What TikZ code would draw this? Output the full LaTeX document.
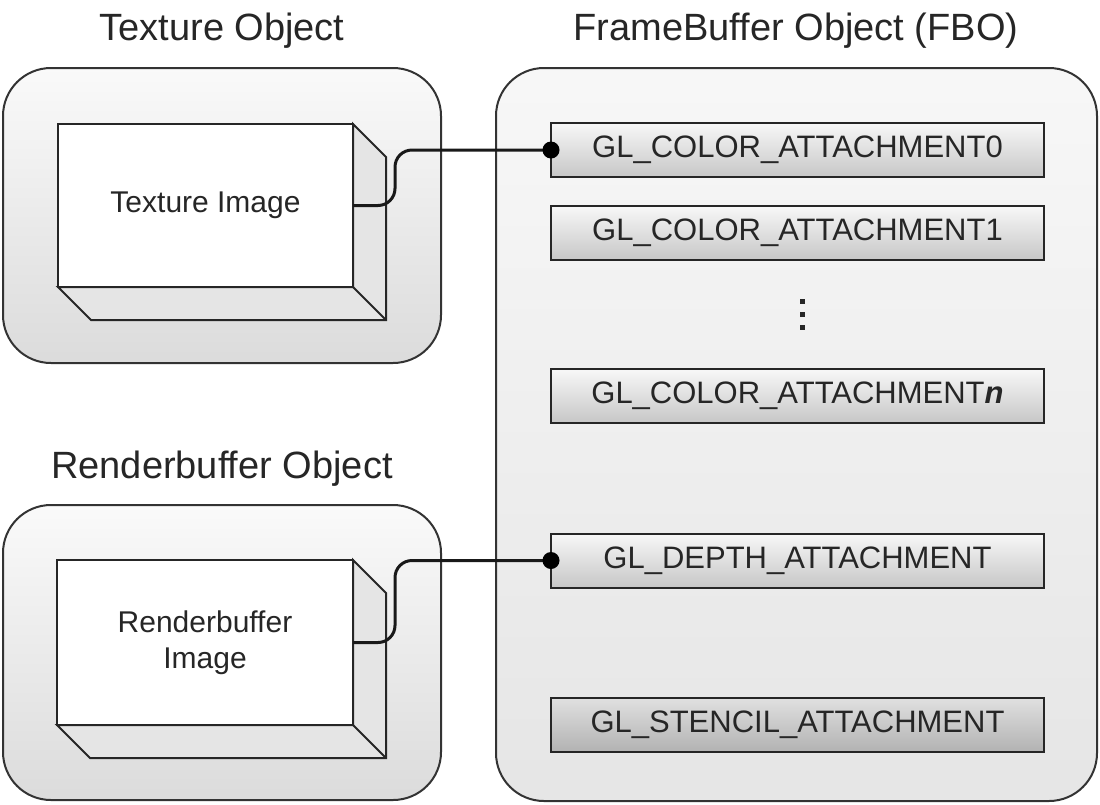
\documentclass[tikz,border=0pt]{standalone}
\usepackage{fontspec}
\setmainfont{Liberation Sans}
\usetikzlibrary{calc}
\begin{document}
\begin{tikzpicture}[x=1pt,y=-1pt,
    objbox/.style={draw=black!80, line width=2pt, rounded corners=48pt, top color=black!2, bottom color=black!14},
    fbobox/.style={draw=black!80, line width=2pt, rounded corners=48pt, top color=black!3, bottom color=black!10},
    front/.style={draw=black!85, line width=2pt, fill=white, outer sep=0pt, align=center, text=black!85, font=\fontsize{30pt}{36pt}\selectfont},
    face/.style={draw=black!85, line width=2pt, fill=black!10, line join=miter},
    attbox/.style={draw=black!85, line width=2pt, minimum width=493pt, minimum height=54pt, outer sep=0pt, top color=black!3, bottom color=black!22, text=black!85, font=\fontsize{31pt}{36pt}\selectfont},
    stencil/.style={attbox, top color=black!12, bottom color=black!30},
    title/.style={anchor=base, text=black!85, font=\fontsize{38pt}{40pt}\selectfont},
    conn/.style={line width=3pt, black!90, rounded corners=17pt}]
  \useasboundingbox (0,0) rectangle (1100,804);
  % titles
  \node[title] (textitle) at (222,40) {Texture Object};
  \node[title] (rbtitle) at (222,478) {Renderbuffer Object};
  \node[title] (fbotitle) at (796,40) {FrameBuffer Object (FBO)};
  % outer objects
  \draw[objbox] (3,68) rectangle (441,363);
  \draw[objbox] (3,505) rectangle (441,800);
  \draw[fbobox] (496,68) rectangle (1097,801);
  % texture image (3d box)
  \node[front, minimum width=295pt, minimum height=163pt] (teximg) at (205.5,205.5) {Texture Image};
  \draw[face] (teximg.north east) -- ++(33,33) -- ([shift={(33,33)}]teximg.south east) -- ([shift={(33,33)}]teximg.south west) -- (teximg.south west) -- (teximg.south east) -- cycle;
  \draw[face] (teximg.south east) -- ++(33,33);
  % renderbuffer image (3d box)
  \node[front, minimum width=296pt, minimum height=165pt] (rbimg) at (205,642.5) {Renderbuffer\\Image};
  \draw[face] (rbimg.north east) -- ++(33,33) -- ([shift={(33,33)}]rbimg.south east) -- ([shift={(33,33)}]rbimg.south west) -- (rbimg.south west) -- (rbimg.south east) -- cycle;
  \draw[face] (rbimg.south east) -- ++(33,33);
  % attachment points
  \node[attbox] (color0) at (797.5,150) {GL\_COLOR\_ATTACHMENT0};
  \node[attbox] (color1) at (797.5,233) {GL\_COLOR\_ATTACHMENT1};
  \node[attbox] (colorn) at (797.5,396) {GL\_COLOR\_ATTACHMENT\textbf{\textit{n}}};
  \node[attbox] (depth) at (797.5,560.5) {GL\_DEPTH\_ATTACHMENT};
  \node[stencil] (stencil) at (797.5,724.5) {GL\_STENCIL\_ATTACHMENT};
  % dots
  \foreach \y in {301,314,327}
    \fill[black!85] (799.5,\y-2.5) rectangle ++(5,5);
  % connections
  \draw[conn] (teximg.east) -- ++(42,0) |- (color0.west);
  \draw[conn] (rbimg.east) -- ++(42,0) |- (depth.west);
  \fill[black] (color0.west) circle (8.5);
  \fill[black] (depth.west) circle (8.5);
\end{tikzpicture}
\end{document}
